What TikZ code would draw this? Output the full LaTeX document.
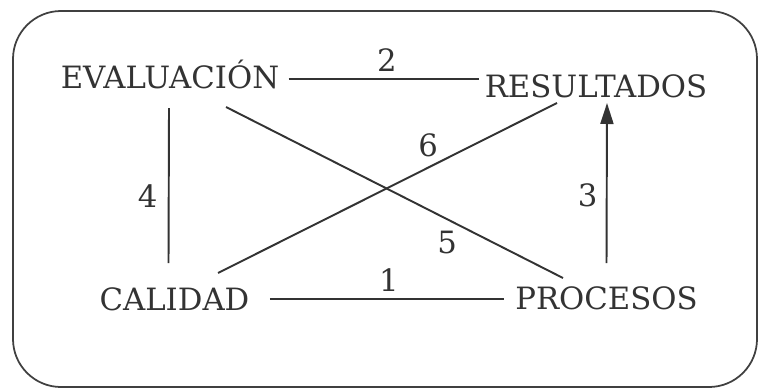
\documentclass[tikz,border=0pt]{standalone}
\usepackage{fontspec}
\setmainfont{DejaVu Serif}
\usepackage{tikz}
\usetikzlibrary{arrows.meta}

\begin{document}
\begin{tikzpicture}[
  x=0.02cm, y=-0.02cm,
  every node/.style={font=\fontsize{17.5}{20}\selectfont, text=black!80},
  term/.style={inner sep=0pt, anchor=base},
  num/.style={inner sep=0pt},
  con/.style={draw=black!80, line width=1.1pt},
  arr/.style={con, -{Triangle[length=0.42cm, width=0.26cm]}}
]
\useasboundingbox (0,0) rectangle (759,389);
\draw[black!75, line width=1pt, rounded corners=0.96cm] (13,11) rectangle (757,387);

\node[term] (eval) at (170,88) {EVALUACIÓN};
\node[term] (res) at (596,97) {RESULTADOS};
\node[term] (cal) at (174.5,310) {CALIDAD};
\node[term] (proc) at (606.5,309) {PROCESOS};

\draw[con] ([shift={(9,-9)}]eval.base east) -- node[num, midway, shift={(3,-19)}] {2} ([shift={(-5,-18)}]res.base west);
\draw[con] ([shift={(-1,20)}]eval.base) -- node[num, midway, shift={(-21,10.5)}] {4} ([shift={(-6,-47)}]cal.base);
\draw[con] ([shift={(20,-11)}]cal.base east) -- node[num, midway, shift={(2,-19)}] {1} ([shift={(-11,-10)}]proc.base west);
\draw[arr] ([shift={(0,-46)}]proc.base) -- node[num, midway, shift={(-19,12)}] {3} ([shift={(11,6)}]res.base);
\draw[con] ([shift={(56,19)}]eval.base) -- node[num, pos=0.72, shift={(-21.6,12)}] {5} ([shift={(-43.5,-31)}]proc.base);
\draw[con] ([shift={(43.5,-37)}]cal.base) -- node[num, pos=0.66, shift={(-13.7,-15.8)}] {6} ([shift={(-39,6)}]res.base);
\end{tikzpicture}
\end{document}
